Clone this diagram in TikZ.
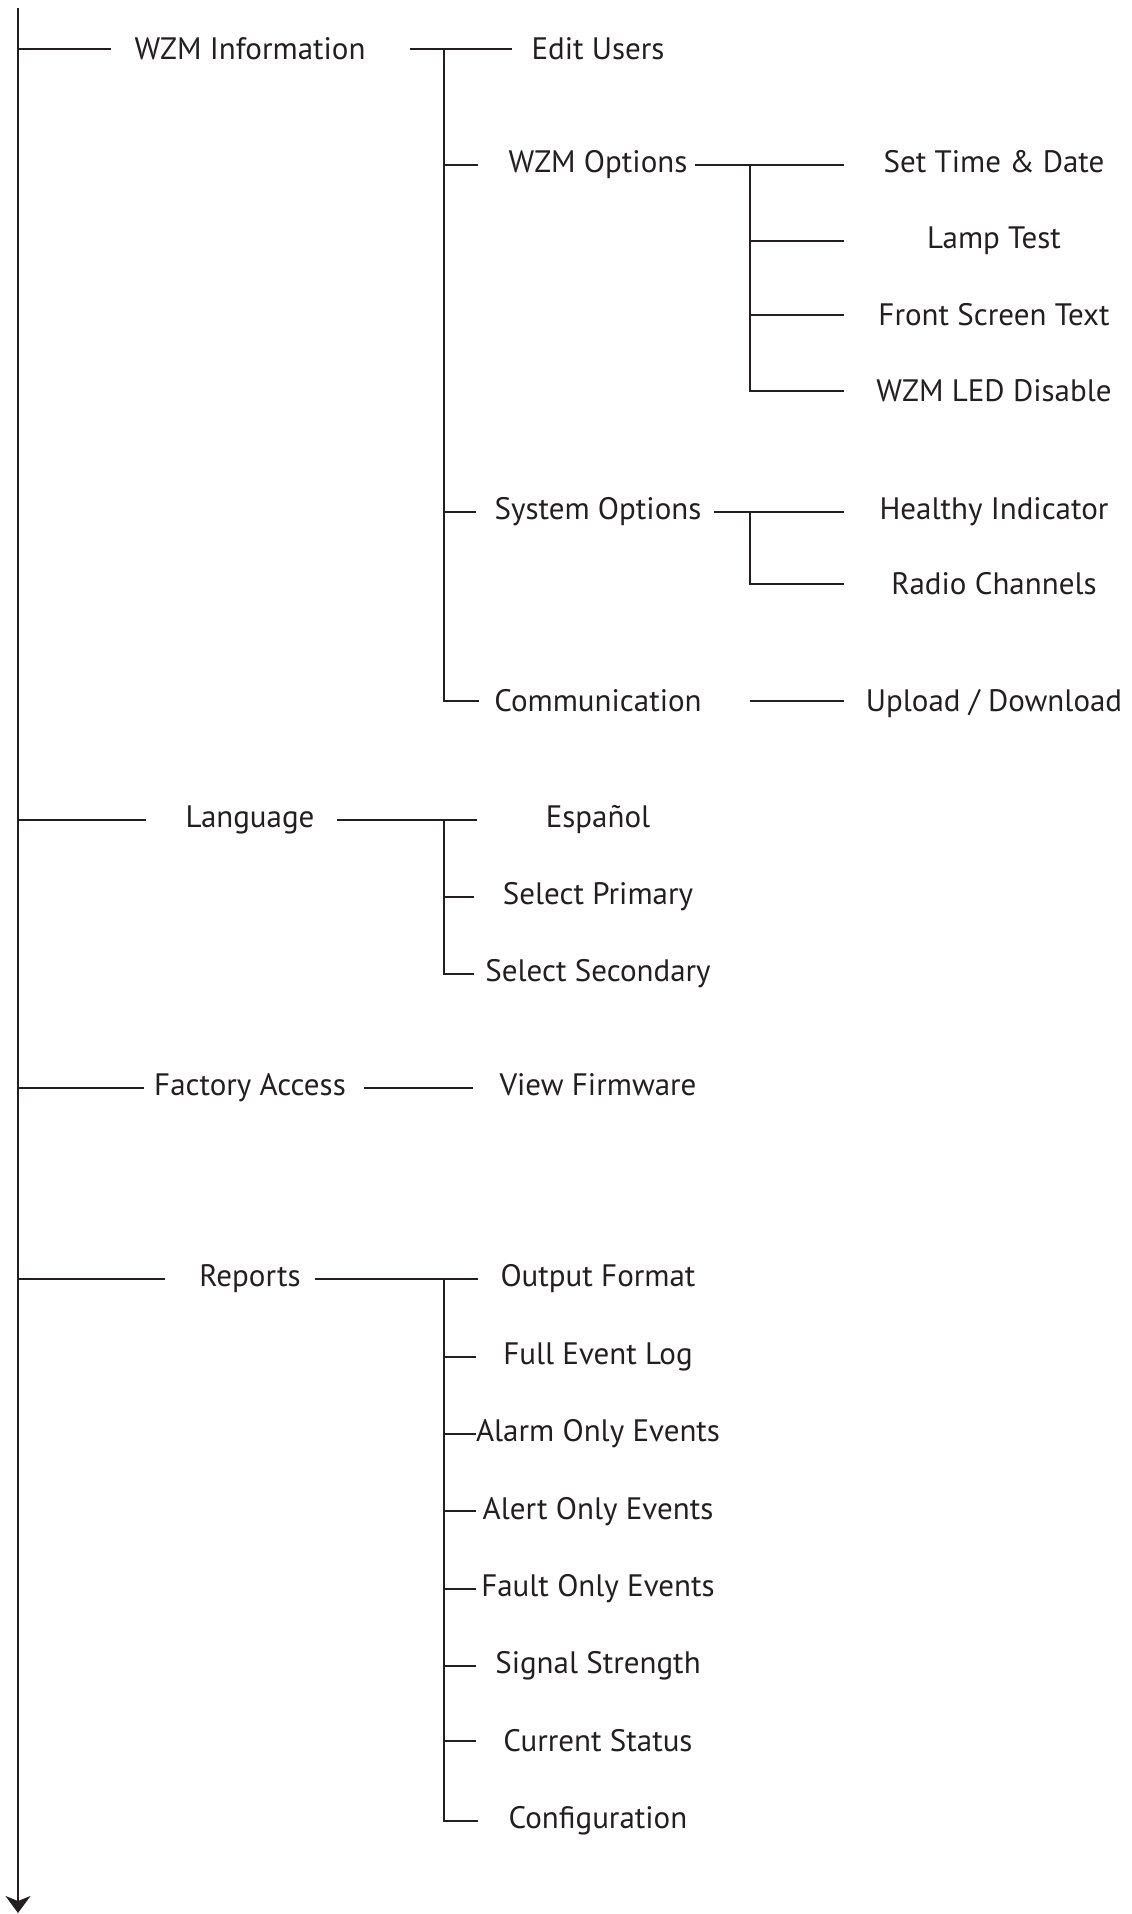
\documentclass[tikz,border=0pt]{standalone}
\usepackage{fontspec}
\setmainfont{PT Sans}
\usetikzlibrary{arrows.meta}
\definecolor{ink}{RGB}{35,31,32}
\begin{document}
\begin{tikzpicture}[x=0.5pt,y=-0.5pt,
  lbl/.style={font=\fontsize{15.5}{18}\selectfont, text=ink, inner sep=0pt, anchor=base, yshift=-5.4pt},
  ln/.style={draw=ink, line width=1pt}]
\useasboundingbox (0,0) rectangle (1131,1914);
% branch x positions
\coordinate (M) at (18,0);
\coordinate (B2) at (444,0);
\coordinate (B3) at (750,0);
\coordinate (top) at (18,8);
\coordinate (bot) at (18,1913);
% level 1
\node[lbl] (wzm)  at (250,49)   {WZM Information};
\node[lbl] (lang) at (250,817)  {Language};
\node[lbl] (fact) at (250,1085) {Factory Access};
\node[lbl] (rep)  at (250,1276) {Reports};
% level 2
\node[lbl] (edit) at (598,49)  {Edit Users};
\node[lbl] (opts) at (598,162) {WZM Options};
\node[lbl] (sys)  at (598,509) {System Options};
\node[lbl] (comm) at (598,701) {Communication};
\node[lbl] (esp)  at (598,817) {Español};
\node[lbl] (prim) at (598,894) {Select Primary};
\node[lbl] (sec)  at (598,971) {Select Secondary};
\node[lbl] (fw)   at (598,1085) {View Firmware};
\node[lbl] (r1) at (598,1276) {Output Format};
\node[lbl] (r2) at (598,1353.4) {Full Event Log};
\node[lbl] (r3) at (598,1430.9) {Alarm Only Events};
\node[lbl] (r4) at (598,1508.3) {Alert Only Events};
\node[lbl] (r5) at (598,1585.7) {Fault Only Events};
\node[lbl] (r6) at (598,1663) {Signal Strength};
\node[lbl] (r7) at (598,1740.6) {Current Status};
\node[lbl] (r8) at (598,1818) {Configuration};
% level 3
\node[lbl] (time)  at (994,162) {Set Time \& Date};
\node[lbl] (lamp)  at (994,238) {Lamp Test};
\node[lbl] (front) at (994,315) {Front Screen Text};
\node[lbl] (led)   at (994,391) {WZM LED Disable};
\node[lbl] (heal)  at (994,509) {Healthy Indicator};
\node[lbl] (radio) at (994,584) {Radio Channels};
\node[lbl] (up)    at (994,701) {Upload / Download};
% main line
\draw[ln,-{Stealth[length=8.5pt,width=12.5pt,inset=2.5pt]}] (top) -- (bot);
% level 1 connectors
\draw[ln] (M|-wzm) -- ++(93,0);
\draw[ln] (M|-lang) -- ++(128,0);
\draw[ln] (M|-fact) -- ++(126,0);
\draw[ln] (M|-rep) -- ++(147,0);
% WZM Information subtree
\draw[ln] (B2|-wzm) +(-34,0) -- +(68,0);
\draw[ln] (B2|-wzm) -- (B2|-comm) -- ++(35,0);
\draw[ln] (B2|-opts) -- ++(34,0);
\draw[ln] (B2|-sys) -- ++(32,0);
% WZM Options subtree
\draw[ln] (B3|-opts) +(-55,0) -- +(94,0);
\draw[ln] (B3|-opts) -- (B3|-led) -- ++(94,0);
\draw[ln] (B3|-lamp) -- ++(94,0);
\draw[ln] (B3|-front) -- ++(94,0);
% System Options subtree
\draw[ln] (B3|-sys) +(-36,0) -- +(94,0);
\draw[ln] (B3|-sys) -- (B3|-radio) -- ++(94,0);
% Communication
\draw[ln] (B3|-comm) -- ++(94,0);
% Language subtree
\draw[ln] (B2|-lang) +(-107,0) -- +(33,0);
\draw[ln] (B2|-lang) -- (B2|-sec) -- ++(30,0);
\draw[ln] (B2|-prim) -- ++(30,0);
% Factory Access
\draw[ln] (B2|-fact) +(-80,0) -- +(29,0);
% Reports subtree
\draw[ln] (B2|-rep) +(-129,0) -- +(34,0);
\draw[ln] (B2|-rep) -- (B2|-r8) -- ++(34,0);
\foreach \n in {r2,r3,r4,r5,r6,r7} \draw[ln] (B2|-\n) -- ++(32,0);
\end{tikzpicture}
\end{document}
